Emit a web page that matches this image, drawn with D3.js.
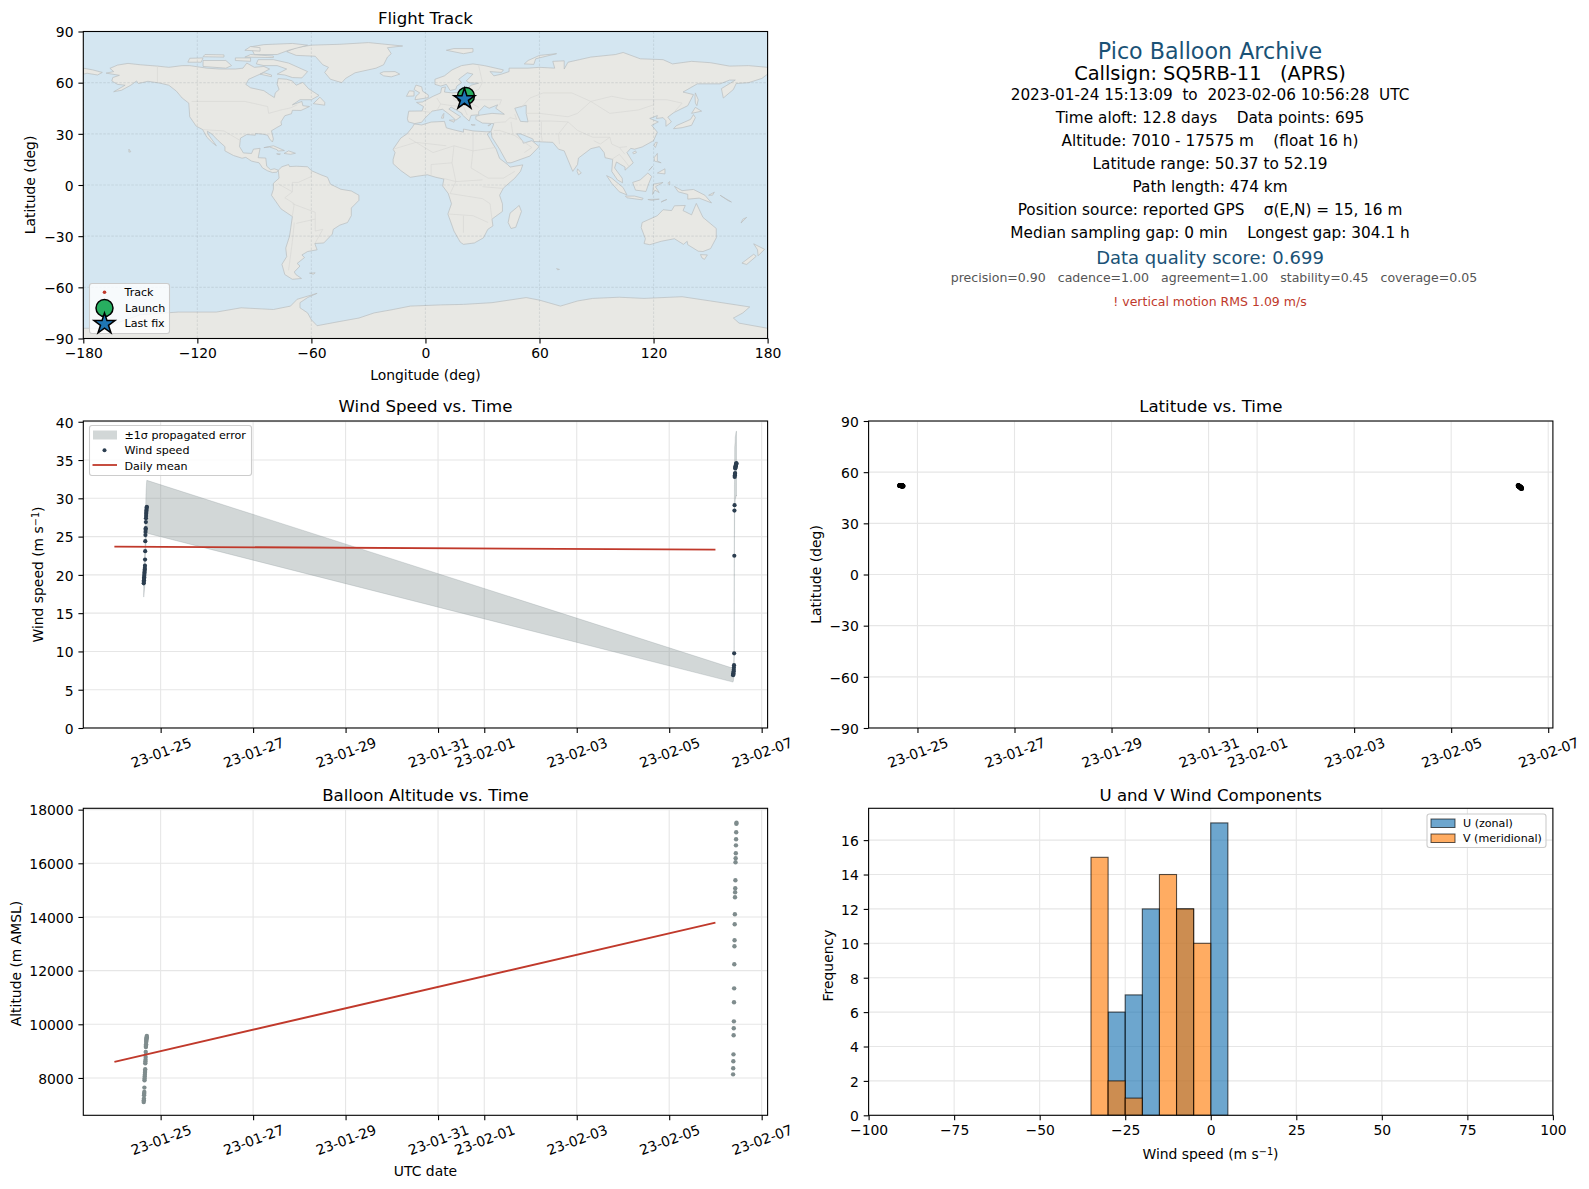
<!DOCTYPE html>
<html>
<head>
<meta charset="utf-8">
<title>Pico Balloon Archive</title>
<script src="https://cdnjs.cloudflare.com/ajax/libs/d3/7.8.5/d3.min.js"></script>
<style>
  html, body { margin: 0; padding: 0; background: #fff; }
  svg text { font-family: "DejaVu Sans", sans-serif; fill: #000; }
</style>
</head>
<body>
<svg id="chart" width="1589" height="1189"></svg>
<script>
// flight samples
const flightTimes = [
  "2023-01-24 15:13","2023-01-24 15:17","2023-01-24 15:20","2023-01-24 15:24","2023-01-24 15:27","2023-01-24 15:31","2023-01-24 15:34",
  "2023-01-24 15:38","2023-01-24 15:41","2023-01-24 15:45","2023-01-24 15:48","2023-01-24 15:52","2023-01-24 15:55","2023-01-24 15:59",
  "2023-01-24 16:02","2023-01-24 16:06","2023-01-24 16:09","2023-01-24 16:13","2023-01-24 16:16","2023-01-24 16:20","2023-01-24 16:23",
  "2023-01-24 16:27","2023-01-24 16:30","2023-01-24 16:34","2023-01-24 16:37","2023-01-24 16:41","2023-01-24 16:45","2023-01-24 16:50",
  "2023-02-06 09:10","2023-02-06 09:14","2023-02-06 09:18","2023-02-06 09:22","2023-02-06 09:27","2023-02-06 09:31","2023-02-06 09:35",
  "2023-02-06 09:39","2023-02-06 09:43","2023-02-06 09:48","2023-02-06 09:52","2023-02-06 09:56","2023-02-06 10:00","2023-02-06 10:05",
  "2023-02-06 10:09","2023-02-06 10:13","2023-02-06 10:17","2023-02-06 10:22","2023-02-06 10:26","2023-02-06 10:30","2023-02-06 10:35",
  "2023-02-06 10:39","2023-02-06 10:43","2023-02-06 10:47","2023-02-06 10:52","2023-02-06 10:56"
];
const windSpeed = [
  18.9,19.1,19.3,19.5,19.7,19.9,20.1,20.3,20.5,20.7,20.9,21.2,22.0,23.1,24.4,25.2,25.6,25.9,26.1,26.9,27.4,27.7,28.0,28.2,28.4,28.6,28.8,28.9,
  6.9,7.0,7.1,7.2,7.4,7.6,7.9,8.2,9.75,22.5,28.4,29.1,32.8,33.0,33.2,33.3,33.9,34.0,34.1,34.2,34.3,34.4,34.4,34.5,34.6,34.5
];
const windSigma = [
  1.8,1.8,1.9,1.9,2.0,2.0,2.1,2.1,2.2,2.2,2.3,2.3,2.4,2.5,2.6,2.7,2.8,2.8,2.9,3.0,3.1,3.2,3.2,3.3,3.3,3.4,3.4,3.45,
  0.9,0.9,0.9,1.0,1.0,1.0,1.1,1.1,1.2,2.8,3.4,3.5,3.9,3.9,4.0,4.0,4.1,4.1,4.1,4.1,4.2,4.2,4.2,4.2,4.2,4.2
];
const altitude = [
  7105,7170,7230,7354,7410,7477,7640,7913,7980,8050,8120,8190,8260,8322,8546,8610,8680,8780,8968,9154,9200,9255,9340,9390,9430,9480,9520,9564,
  8135,8360,8620,8880,9590,9850,10110,10820,11340,12235,12906,13130,13726,14100,14733,14919,15068,15366,16037,16186,16373,16670,16894,17155,17470,17510
];
const latitude = [
  52.19,52.18,52.17,52.16,52.15,52.14,52.13,52.12,52.11,52.10,52.10,52.09,52.08,52.07,52.06,52.05,52.04,52.03,52.02,52.01,52.00,51.99,51.98,51.97,51.96,51.95,51.94,51.93,
  52.15,52.10,52.03,51.96,51.90,51.83,51.76,51.70,51.63,51.56,51.50,51.43,51.36,51.30,51.23,51.16,51.10,51.03,50.96,50.90,50.80,50.66,50.50,50.37
];
const longitude = [
  21.3,21.3,21.3,21.3,21.2,21.2,21.2,21.2,21.2,21.1,21.1,21.1,21.1,21.1,21.0,21.0,21.0,21.0,21.0,21.0,20.9,20.9,20.9,20.9,20.9,20.9,20.8,20.8,
  20.8,20.8,20.8,20.8,20.8,20.8,20.7,20.7,20.7,20.7,20.7,20.7,20.7,20.7,20.6,20.6,20.6,20.6,20.6,20.6,20.6,20.5,20.5,20.5
];
const meanTimes = ["2023-01-24 00:00", "2023-02-06 00:00"];
const meanWind = [23.7, 23.3];
const meanAltitude = [8600, 13790];

// histogram bins
const binEdges = [-35, -30, -25, -20, -15, -10, -5, 0, 5];
const uCounts = [0, 6, 7, 12, 0, 12, 0, 17];
const vCounts = [15, 2, 1, 0, 14, 12, 10, 0];

const dateTicks = ["2023-01-25","2023-01-27","2023-01-29","2023-01-31","2023-02-01","2023-02-03","2023-02-05","2023-02-07"];
const lonTicks = [-180, -120, -60, 0, 60, 120, 180];
const latTicks = [-90, -60, -30, 0, 30, 60, 90];
const speedTicks = [0, 5, 10, 15, 20, 25, 30, 35, 40];
const altTicks = [8000, 10000, 12000, 14000, 16000, 18000];
const histXTicks = [-100, -75, -50, -25, 0, 25, 50, 75, 100];
const histYTicks = [0, 2, 4, 6, 8, 10, 12, 14, 16];

const summaryLines = [
  ["Pico Balloon Archive", 22.2, "#1a5276", 50.5, 1210],
  ["Callsign: SQ5RB-11   (APRS)", 19.4, "#000", 73.3, 1210],
  ["2023-01-24 15:13:09  to  2023-02-06 10:56:28  UTC", 15.25, "#000", 94.5, 1210],
  ["Time aloft: 12.8 days    Data points: 695", 15.3, "#000", 117.6, 1210],
  ["Altitude: 7010 - 17575 m    (float 16 h)", 15.3, "#000", 140.7, 1210],
  ["Latitude range: 50.37 to 52.19", 15.3, "#000", 163.5, 1210],
  ["Path length: 474 km", 15.3, "#000", 186.5, 1210],
  ["Position source: reported GPS    σ(E,N) = 15, 16 m", 15.3, "#000", 209.5, 1210],
  ["Median sampling gap: 0 min    Longest gap: 304.1 h", 15.3, "#000", 232.5, 1210],
  ["Data quality score: 0.699", 18, "#1a5276", 257, 1210],
  ["precision=0.90   cadence=1.00   agreement=1.00   stability=0.45   coverage=0.05", 12.55, "#555", 277.8, 1214],
  ["! vertical motion RMS 1.09 m/s", 12.5, "#c0392b", 301, 1210]
];

// land outlines, [lon, lat]
const northAmerica = [[-168,65.6],[-164,66.5],[-166,68.4],[-162,70.3],[-156.5,71.3],[-150,70.5],[-141,69.7],[-135,69],[-128,70],[-124,70],[-115,68.5],[-108,68],[-100,68],[-96,68.5],[-94,71.5],[-90,69],[-85,69.5],[-82,68],[-87,65],[-93,62],[-94.5,59],[-92,57],[-85,55.3],[-82,53],[-79.5,51.3],[-79,54],[-77,56],[-78,59],[-77.5,62.4],[-73,62],[-70,61],[-68,58.5],[-64.5,60.2],[-61.5,56.5],[-56,52.5],[-60,50],[-66,50],[-70,47],[-65,49],[-64.5,46.5],[-61,46],[-65.5,43.7],[-70,43.8],[-70.5,41.8],[-74,40.6],[-76,37],[-75.7,35.2],[-78,33.8],[-81,31.8],[-80,27],[-80.5,25.2],[-82,27],[-83,29.2],[-85.5,29.8],[-89.5,30.2],[-89.5,29.2],[-94,29.6],[-97.3,27.5],[-97.8,22.5],[-95.8,18.8],[-91.5,18.5],[-90.5,21],[-87,21.5],[-88,16],[-84,15.8],[-83.5,11],[-81.5,9],[-79.5,9.5],[-77.4,8.7],[-78.2,7.5],[-80.5,7.3],[-83,8.3],[-85.7,10],[-87.5,13],[-91.5,14],[-94.5,16.2],[-96.5,15.7],[-101,17.3],[-105.5,20],[-105.5,22.5],[-109,26],[-112.5,30],[-114.7,31.5],[-114.5,30],[-110,23],[-112,24.7],[-115,28],[-117.2,32.5],[-120.6,34.5],[-124,40],[-124.5,48],[-128,51],[-131,55],[-135,58.5],[-140,59.8],[-146,60.8],[-151,59.5],[-152,61],[-155,58.5],[-160,55.5],[-164,54.7],[-158,58.5],[-162,59],[-165,61],[-164.5,63],[-161,64.3]];
const southAmerica = [[-77.4,8.7],[-75.5,10.7],[-72,12],[-71.5,10.8],[-68,11],[-62,10.7],[-60,8.4],[-55,6],[-51.5,4.5],[-50,0.5],[-44.5,-2.5],[-39,-3.5],[-35,-6],[-35,-9],[-39,-13.5],[-39,-18],[-41,-22],[-45,-23.5],[-48.5,-26],[-49,-28.8],[-53.5,-34],[-58.2,-34.3],[-57,-38],[-62,-39],[-65,-41],[-63.6,-42.5],[-67.5,-46],[-66,-47.5],[-69,-51],[-68.2,-52.5],[-65.2,-54.8],[-70,-55.3],[-74,-52.5],[-75.5,-46.5],[-73,-42],[-73.5,-37],[-71.5,-30],[-70,-18.5],[-76,-14],[-81,-6],[-80,-2.5],[-80,1],[-77,4]];
const greenland = [[-73,78.2],[-68,76],[-58,75.5],[-54,70.5],[-51,69],[-53,66],[-50,62],[-44,60],[-42,62.5],[-37,65.8],[-26,68.5],[-22,70.5],[-20,75],[-18,77],[-20,80.5],[-12,81.5],[-30,83.5],[-45,82.5],[-60,82],[-68,80.5]];
const africa = [[-5.9,35.8],[-2,35.2],[3,36.9],[10,37.3],[11,33.5],[15,32.3],[20,31],[20,32.8],[25,31.7],[32,31.2],[34.2,31.3],[32.5,29.9],[35.5,24],[37.2,21],[39,15.6],[43.2,12],[44.5,10.5],[51.2,11.8],[50,8],[47,4],[41,-1.8],[39,-6],[40.5,-11],[40.5,-15.5],[35,-20],[35.5,-24],[32.8,-26],[30.5,-31],[25.7,-34],[20,-34.8],[18.3,-33.5],[15,-27],[11.8,-17],[13.7,-11],[12,-5],[9,-0.5],[9.7,3.5],[5.5,4.5],[1,6],[-4,5.2],[-8,4.5],[-13,8.5],[-17,12.5],[-17,15],[-16,19],[-17,21],[-13,27.5],[-9.7,30],[-6.8,34]];
const eurasia = [[-5.6,36],[-9,37],[-9.5,38.8],[-8.8,43.3],[-1.8,43.4],[-1,46],[-4.7,48.4],[-1.6,48.7],[1.5,50.5],[4,52],[8,54],[8.5,57],[10.5,57.5],[10,54.5],[14,54],[19,54.5],[21,55.5],[24,58.5],[28,59.7],[23,59.9],[21.5,61],[25,65],[22,65.8],[17.5,62],[19,60],[16.5,58],[16,56.2],[13,55.4],[11,59],[8,58],[5,59],[5,62],[10,64],[14,67.5],[19,70],[25,71],[31,70],[41,67.5],[40,66],[34,66.5],[36,64],[40,65],[44,66.5],[44,68.5],[54,68.5],[60,69],[68,68.5],[67,72.5],[73,72.8],[73,68],[75,72],[81,73.5],[87,75],[100,76.5],[104,77.7],[113,74],[125,73.5],[130,71],[140,72.5],[150,71.7],[160,69.7],[170,70],[180,69],[180,65],[177,62.5],[170,60],[163.5,59.5],[162,56],[156.7,51],[155.7,56.5],[163,61.5],[160,61.5],[155,59.3],[143,59.3],[135.5,54.5],[141,53],[138,46.5],[130.7,42.5],[127.5,39.8],[129.4,37],[126.5,34.4],[126.5,37.7],[125,39.5],[121.5,39],[122,40.7],[118,39],[122.5,37],[119,35],[122,31],[120,26],[114,22.3],[110,21],[108,21.5],[106,19],[109.3,13],[105,8.7],[105,10.5],[100.5,13.5],[99.5,10],[103.5,4],[103.7,1.3],[101,3],[98,8],[98.5,15],[94.5,16],[94,19],[91.5,22.5],[87,21.3],[80.5,15.8],[80,12],[77.5,8],[73,20],[70,21],[67,25],[57,25.5],[56.5,27],[50,30],[48,30],[51,26],[51.5,24.5],[56,26],[59.8,22.5],[55,17],[45,13],[43,13],[39,21],[35,28],[34.5,31.5],[36,36],[30,36.3],[26.5,38.5],[26.5,40.3],[29,41],[35,42],[41.5,41.5],[37,45],[38,47],[33.5,45],[31,46.5],[28,43],[28,41.2],[24,40.8],[23,37.5],[19.5,41],[19,42.2],[13.5,45.7],[12.3,44.5],[18.5,40],[16,38],[13,41],[9,44.4],[3.5,43.3],[0,39.5],[-2,36.8]];
const australia = [[114,-22],[122,-18],[125,-14.5],[129.5,-15],[131,-12.2],[136.7,-12],[135.5,-15],[140,-17.5],[142.5,-10.8],[146,-19],[153,-25.5],[153,-31],[150,-37.3],[146,-39],[143.5,-38.8],[138,-35],[137.7,-33],[135.7,-34.8],[131,-31.5],[124,-33],[118,-35],[115,-34.3],[115.7,-31.5],[113.5,-25]];
const antarctica = [[-180,-84],[-172,-84],[-160,-80],[-150,-76],[-130,-74.5],[-110,-74.5],[-97,-72],[-80,-73],[-71,-71],[-67.5,-67],[-57,-63.5],[-62,-66],[-66,-69],[-66,-72],[-62,-75],[-60,-79],[-57,-82.5],[-45,-80],[-35,-78],[-27,-75],[-17,-73],[-8,-71],[8,-70.3],[20,-70],[35,-69],[53,-66],[60,-67.5],[71,-71],[80,-68],[88,-66.5],[102,-65.8],[115,-66.5],[135,-65.5],[150,-68],[170.6,-71.5],[167,-75],[162,-78],[165,-81],[180,-84],[180,-90],[-180,-90]];
const islands = [
  [[-180,68.5],[-175,67.5],[-170,66],[-172.5,64.5],[-178,65.5],[-180,65]],
  [[-80,73.5],[-72,71.5],[-67,69],[-62,66.5],[-65,62.8],[-70,63],[-74,64.5],[-78,65],[-73,68],[-78,70],[-85,70],[-89,71],[-88,73.5]],
  [[-117,69.5],[-105,68.5],[-102,70],[-105,73],[-117,73]],
  [[-125,72],[-118,72],[-117,74.5],[-124,74.3]],
  [[-90,76.5],[-78,76.5],[-72,79],[-62,82],[-70,83],[-85,82.3],[-92,81]],
  [[-95,75],[-80,74.7],[-80,75.6],[-92,76.5]],
  [[-117,75.2],[-106,75],[-106,76.3],[-116,76.5]],
  [[-100,73],[-92,72.5],[-92,74.5],[-100,74.5]],
  [[-95,79],[-87,78.5],[-87,80.5],[-92,81.2]],
  [[-87,65],[-81,63.5],[-81,64.5],[-85,65.8]],
  [[-59,47.7],[-53,46.8],[-53,48.5],[-55.5,51.5]],
  [[-85,21.9],[-80,23],[-74.2,20.2],[-77.7,19.9],[-78,20.7],[-82,22.3]],
  [[-74.4,18.5],[-72,20],[-68.4,18.6],[-71,18]],
  [[-78.3,18.3],[-76.3,18.2],[-77,17.8]],
  [[-156,21],[-155,19.5],[-156,19.3]],
  [[-61,-51.7],[-58,-51.5],[-59,-52.3]],
  [[-5.5,50],[1.5,51.2],[1.5,52.8],[-1.5,55],[-2,57.6],[-5,58.6],[-6,56],[-3,54],[-5,52]],
  [[-10,52],[-6,52.2],[-6,55],[-8.5,55.2]],
  [[-24,65.5],[-22,64],[-18,63.4],[-13.5,65],[-16,66.5],[-22,66.4]],
  [[11,79],[20,77],[25,78],[25,80],[15,80]],
  [[52,71],[57,70.7],[58,74],[69,77],[60,76],[54,73]],
  [[142,54],[143.5,50],[142.8,46.5],[142,48],[141.8,52]],
  [[130.5,33],[135,33.6],[140,35],[142,39.5],[141,41.3],[139.5,38.5],[136.5,37],[132,34.8]],
  [[140,42],[145.3,43.3],[142,45.5]],
  [[120.2,23],[121,25],[122,25],[121,22]],
  [[109,19],[110.5,20],[111,19],[109.5,18.2]],
  [[80,9.5],[82,7],[80.5,6],[79.8,8]],
  [[120.3,16],[122,18.5],[122,14],[124,13],[120.5,14]],
  [[122,7],[126,9.5],[126,6.5]],
  [[118,9],[119.5,11],[117.5,8.5]],
  [[109,1.5],[113,3],[117,7],[119,5],[117.5,1],[116,-3.8],[110.5,-3]],
  [[95.3,5.5],[98,4],[104,-1.5],[106,-5.8],[102,-4],[98,1]],
  [[105.2,-6.5],[110,-6.5],[114.5,-7.8],[114,-8.7],[106,-7.5]],
  [[119.5,-5.5],[120,0.5],[125,1.5],[121,-1],[123,-4.5],[120.7,-3]],
  [[127.5,1],[128.5,2],[128.5,0]],
  [[117,-8.5],[123,-8.3],[119,-9]],
  [[131,-0.8],[135,-3.3],[141,-2.6],[147,-6],[150.5,-10.5],[144,-7.7],[138,-8.3],[138,-5.5],[133,-4]],
  [[124,-10],[127,-8.5],[125,-9.3]],
  [[149,-6],[152,-4.2],[151,-6]],
  [[155,-6],[158,-8],[161,-10],[159,-9]],
  [[49.3,-12],[50.5,-15.5],[47.5,-24.8],[45,-25.5],[43.5,-22],[44.5,-16.5]],
  [[144.7,-40.8],[148.3,-41],[146.8,-43.6],[145.5,-42.8]],
  [[172.7,-34.5],[178.4,-37.7],[175,-41.5],[174.7,-38]],
  [[172.7,-40.6],[174,-41.8],[169,-46.6],[166.5,-45.8]],
  [[167,-20],[169,-19],[166,-22.3]],
  [[69,-49],[70.5,-49.5],[69.5,-49.7]],
  [[9,41],[9.7,42],[9.5,39.2],[8.4,39.2]],
  [[12.5,38],[15.5,38.2],[15,36.8]],
  [[24,35.5],[26.2,35.2],[24.5,35]],
  [[33,35],[34.5,35.6],[33,34.6]]
];
const caspian = [[47,45],[53,46.8],[53,42],[54,37],[50,37.3],[48.5,41]];
const borders = [
  [[-123,49],[-95,49],[-83,46],[-82.5,42],[-76,44],[-71,45.2],[-67.5,47]],
  [[-141,69.7],[-141,60.3]],
  [[-117,32.5],[-106,31.7],[-97.3,26]],
  [[-70,-18],[-69,-11],[-74,-7.5],[-70,-4],[-70,1.5],[-67,1.5],[-60,5],[-60,8]],
  [[-69,-22],[-70,-33],[-72,-50]],
  [[-58,-20],[-58,-27],[-54,-26],[-58,-34]],
  [[-70,-11],[-58,-16],[-58,-20],[-68,-22.5]],
  [[-77.5,0.7],[-70,-4]],
  [[-8.7,27.5],[4,19],[15,23],[25,20],[36.8,22]],
  [[25,31.7],[25,20],[24,10],[33,4],[41,4],[47,8]],
  [[-17,21],[-5,25],[11,23]],
  [[3,6],[3,12],[14,13],[15,23]],
  [[14,13],[16,2],[13,-5],[30,-8],[34,-11],[35,-20]],
  [[12,-17],[25,-18],[33,-22]],
  [[20,-28],[20,-18]],
  [[9,4],[16,2],[30,3]],
  [[30,-1],[41,-2]],
  [[28,70],[30,60],[28,56],[23.5,54],[24,50],[40,50],[39,47]],
  [[14,54],[15,50],[24,48],[28,45.5]],
  [[6,51],[8,47.5],[14,46.5],[20,46],[22,41]],
  [[-1.8,43.3],[3,42.5]],
  [[6,43.7],[8,47.5]],
  [[47,41.5],[48,38.5],[44.5,39.5],[42,37],[36,36.5]],
  [[45,37],[46,30]],
  [[36,32],[39,32],[47,29],[56,22],[52,19]],
  [[61,37],[61,29],[61.5,25.3]],
  [[54,37.5],[66,37.5],[75,37],[70,30],[70.5,24]],
  [[75,37],[80,32],[88,28],[97,28],[98,24],[102,22],[106,22.5]],
  [[50,45],[55,51],[62,54],[77,54],[87,49],[80,42],[75,40],[60,42],[53,42]],
  [[87,49],[98,52],[107,50],[120,50],[127,50],[135,48],[131,43]],
  [[87,49],[97,42],[112,44],[120,47],[120,50]],
  [[97,28],[92,24],[88.5,26]],
  [[98,15],[102,18],[105,14],[107,11]],
  [[102,22],[105,18]]
];

const red = "#c0392b";
const parseTime = d3.utcParse("%Y-%m-%d %H:%M");
const parseDay = d3.utcParse("%Y-%m-%d");
const flightDates = flightTimes.map(parseTime);
const meanDates = meanTimes.map(parseTime);

const svg = d3.select("#chart");

// axes boxes in page pixels
const leftCol = [83.3, 767.6];
const rightCol = [868.6, 1552.9];
const rowMap = [31.5, 338.5];
const rowMid = [421, 728];
const rowLow = [808.3, 1115.3];

// 5% margin on the time axis like the original
function paddedTime(first, last) {
  const pad = (last - first) * 0.05;
  return [new Date(first - pad), new Date(+last + pad)];
}
const lastFix = flightDates[flightDates.length - 1];
const timeDomain = paddedTime(meanDates[0], lastFix);   // panels with a daily mean start earlier
const latTimeDomain = paddedTime(flightDates[0], lastFix);

let clipCount = 0;

function panel(xRange, yRange, title, titleGap) {
  const g = svg.append("g");
  clipCount += 1;
  const clipId = "clip" + clipCount;
  g.append("clipPath").attr("id", clipId).append("rect")
    .attr("x", xRange[0]).attr("y", yRange[0])
    .attr("width", xRange[1] - xRange[0]).attr("height", yRange[1] - yRange[0]);
  const body = g.append("g").attr("clip-path", `url(#${clipId})`);
  g.append("text").attr("x", (xRange[0] + xRange[1]) / 2).attr("y", yRange[0] - (titleGap || 7.5))
    .attr("text-anchor", "middle").style("font-size", "16.6px").text(title);
  return { g, body, xRange, yRange, clipId };
}

function frame(p) {
  p.g.append("rect")
    .attr("x", p.xRange[0]).attr("y", p.yRange[0])
    .attr("width", p.xRange[1] - p.xRange[0]).attr("height", p.yRange[1] - p.yRange[0])
    .attr("fill", "none").attr("stroke", "#000").attr("stroke-width", 1.1);
}

function styleAxis(sel) {
  sel.selectAll(".domain").remove();
  sel.selectAll(".tick line").attr("stroke", "#000").attr("stroke-width", 1.1);
  sel.selectAll(".tick text").style("font-size", "13.9px").style("font-family", '"DejaVu Sans", sans-serif');
}

function xAxisBottom(p, scale, ticks, fmt) {
  const axis = d3.axisBottom(scale).tickValues(ticks).tickSize(4.9).tickPadding(4.9);
  if (fmt) axis.tickFormat(fmt);
  return p.g.append("g").attr("transform", `translate(0,${p.yRange[1]})`).call(axis).call(styleAxis);
}

function yAxisLeft(p, scale, ticks) {
  const axis = d3.axisLeft(scale).tickValues(ticks).tickSize(4.9).tickPadding(4.9).tickFormat(d3.format("d"));
  const ax = p.g.append("g").attr("transform", `translate(${p.xRange[0]},0)`).call(axis).call(styleAxis);
  ax.selectAll(".tick text").attr("dy", "0.38em");
  return ax;
}

function grid(p, xScale, xTicks, yScale, yTicks, color, dash) {
  const lines = p.body.append("g").attr("stroke", color).attr("stroke-width", 1.1);
  if (dash) lines.attr("stroke-dasharray", dash);
  lines.selectAll(".gx").data(xTicks).join("line").attr("class", "gx")
    .attr("x1", d => xScale(d)).attr("x2", d => xScale(d))
    .attr("y1", p.yRange[0]).attr("y2", p.yRange[1]);
  lines.selectAll(".gy").data(yTicks).join("line").attr("class", "gy")
    .attr("y1", d => yScale(d)).attr("y2", d => yScale(d))
    .attr("x1", p.xRange[0]).attr("x2", p.xRange[1]);
}

function timeAxis(p, scale) {
  const fmt = d3.utcFormat("%y-%m-%d");
  const ax = xAxisBottom(p, scale, dateTicks.map(parseDay), fmt);
  ax.selectAll(".tick text")
    .attr("text-anchor", "middle").attr("dy", null).attr("y", 0)
    .attr("dominant-baseline", "central")
    .attr("transform", "translate(0,24.5) rotate(-20)");
  return ax;
}

function label(x, y, txt, size, rotate, sup) {
  const t = svg.append("text").attr("text-anchor", "middle").style("font-size", (size || 13.9) + "px")
    .attr("transform", `translate(${x},${y})` + (rotate ? " rotate(-90)" : ""));
  t.append("tspan").text(txt);
  if (sup) {
    t.append("tspan").attr("dy", "-0.4em").style("font-size", "0.7em").text(sup);
    t.append("tspan").attr("dy", "0.28em").text(")");
  }
  return t;
}

function legendBox(x, y, w, h) {
  svg.append("rect").attr("x", x).attr("y", y).attr("width", w).attr("height", h).attr("rx", 2.5)
    .attr("fill", "#fff").attr("fill-opacity", 0.8).attr("stroke", "#ccc").attr("stroke-width", 1.1);
}

function legendText(x, y, txt) {
  svg.append("text").attr("x", x).attr("y", y).attr("dominant-baseline", "central")
    .style("font-size", "11.1px").text(txt);
}

// ---- flight track map
const mapPanel = panel(leftCol, rowMap, "Flight Track");
const mapX = d3.scaleLinear().domain([-180, 180]).range(leftCol);
const mapY = d3.scaleLinear().domain([-90, 90]).range([rowMap[1], rowMap[0]]);
const geoLine = d3.line().x(d => mapX(d[0])).y(d => mapY(d[1]));

mapPanel.body.append("rect")
  .attr("x", leftCol[0]).attr("y", rowMap[0])
  .attr("width", leftCol[1] - leftCol[0]).attr("height", rowMap[1] - rowMap[0])
  .attr("fill", "#d4e6f1");

const landShapes = [northAmerica, southAmerica, greenland, africa, eurasia, australia, antarctica].concat(islands);
mapPanel.body.append("g").selectAll("path").data(landShapes).join("path")
  .attr("d", d => geoLine(d) + "Z")
  .attr("fill", "#e8e8e4").attr("stroke", "#b9bdbf").attr("stroke-width", 0.7).attr("stroke-linejoin", "round");
mapPanel.body.append("path").attr("d", geoLine(caspian) + "Z")
  .attr("fill", "#d4e6f1").attr("stroke", "#b9bdbf").attr("stroke-width", 0.7);
mapPanel.body.append("g").selectAll("path").data(borders).join("path")
  .attr("d", geoLine).attr("fill", "none").attr("stroke", "#d8d8d5").attr("stroke-width", 0.7);

grid(mapPanel, mapX, lonTicks, mapY, latTicks, "rgba(120,130,135,0.16)", "2.5,1.5");

mapPanel.body.append("g").attr("fill", red).selectAll("circle").data(latitude).join("circle")
  .attr("cx", (d, i) => mapX(longitude[i])).attr("cy", d => mapY(d)).attr("r", 1.5);
mapPanel.g.append("circle")
  .attr("cx", mapX(longitude[0])).attr("cy", mapY(latitude[0])).attr("r", 8.5)
  .attr("fill", "#27ae60").attr("stroke", "#000").attr("stroke-width", 1.5);
const starPath = d3.symbol(d3.symbolStar, 136)();
mapPanel.g.append("path").attr("d", starPath)
  .attr("transform", `translate(${mapX(longitude[longitude.length - 1])},${mapY(latitude[latitude.length - 1])})`)
  .attr("fill", "#1f77b4").attr("stroke", "#000").attr("stroke-width", 1.5).attr("stroke-linejoin", "miter");

frame(mapPanel);
xAxisBottom(mapPanel, mapX, lonTicks);
yAxisLeft(mapPanel, mapY, latTicks);
label(425.5, 379.5, "Longitude (deg)");
label(35, 185, "Latitude (deg)", 13.9, true);

legendBox(89.5, 283.5, 80, 50);
svg.append("circle").attr("cx", 104.5).attr("cy", 292.3).attr("r", 1.8).attr("fill", red);
svg.append("circle").attr("cx", 104.5).attr("cy", 308).attr("r", 8.5)
  .attr("fill", "#27ae60").attr("stroke", "#000").attr("stroke-width", 1.5);
svg.append("path").attr("d", starPath).attr("transform", "translate(104.5,324)")
  .attr("fill", "#1f77b4").attr("stroke", "#000").attr("stroke-width", 1.5);
legendText(124.5, 292.3, "Track");
legendText(125, 308, "Launch");
legendText(124.5, 323, "Last fix");

// ---- wind speed
const windPanel = panel(leftCol, rowMid, "Wind Speed vs. Time", 9);
const windT = d3.scaleUtc().domain(timeDomain).range(leftCol);
const windY = d3.scaleLinear().domain([0, 40.1]).range([rowMid[1], rowMid[0]]);
grid(windPanel, windT, dateTicks.map(parseDay), windY, speedTicks, "#e6e6e6");

const windBand = d3.area()
  .x((d, i) => windT(flightDates[i]))
  .y0((d, i) => windY(d - windSigma[i]))
  .y1((d, i) => windY(d + windSigma[i]));
windPanel.body.append("path").attr("d", windBand(windSpeed))
  .attr("fill", "#7f8c8d").attr("fill-opacity", 0.35).attr("stroke", "#7f8c8d").attr("stroke-opacity", 0.3).attr("stroke-width", 0.8);
windPanel.body.append("g").attr("fill", "#2c3e50").selectAll("circle").data(windSpeed).join("circle")
  .attr("cx", (d, i) => windT(flightDates[i])).attr("cy", d => windY(d)).attr("r", 2.1);
const windMean = d3.line().x((d, i) => windT(meanDates[i])).y(d => windY(d));
windPanel.body.append("path").attr("d", windMean(meanWind)).attr("fill", "none").attr("stroke", red).attr("stroke-width", 1.8);

frame(windPanel);
timeAxis(windPanel, windT);
yAxisLeft(windPanel, windY, speedTicks);
label(42.5, 574.5, "Wind speed (m s", 13.9, true, "−1");

legendBox(89.5, 425.5, 162, 50);
svg.append("rect").attr("x", 93).attr("y", 430.5).attr("width", 24).attr("height", 9)
  .attr("fill", "#7f8c8d").attr("fill-opacity", 0.35);
svg.append("circle").attr("cx", 104.5).attr("cy", 450.3).attr("r", 2).attr("fill", "#2c3e50");
svg.append("line").attr("x1", 92.5).attr("x2", 117).attr("y1", 465).attr("y2", 465).attr("stroke", red).attr("stroke-width", 1.8);
legendText(124.5, 435.5, "±1σ propagated error");
legendText(124.5, 450.3, "Wind speed");
legendText(124.5, 466, "Daily mean");

// ---- latitude
const latPanel = panel(rightCol, rowMid, "Latitude vs. Time", 9);
const latT = d3.scaleUtc().domain(latTimeDomain).range(rightCol);
const latY = d3.scaleLinear().domain([-90, 90]).range([rowMid[1], rowMid[0]]);
grid(latPanel, latT, dateTicks.map(parseDay), latY, latTicks, "#e6e6e6");
latPanel.body.append("g").attr("fill", "#000").selectAll("circle").data(latitude).join("circle")
  .attr("cx", (d, i) => latT(flightDates[i])).attr("cy", d => latY(d)).attr("r", 2.5);
frame(latPanel);
timeAxis(latPanel, latT);
yAxisLeft(latPanel, latY, latTicks);
label(820.5, 574.5, "Latitude (deg)", 13.9, true);

// ---- altitude
const altPanel = panel(leftCol, rowLow, "Balloon Altitude vs. Time");
const altT = d3.scaleUtc().domain(timeDomain).range(leftCol);
const altY = d3.scaleLinear().domain([6608, 18050]).range([rowLow[1], rowLow[0]]);
grid(altPanel, altT, dateTicks.map(parseDay), altY, altTicks, "#e6e6e6");
altPanel.body.append("g").attr("fill", "#7f8c8d").selectAll("circle").data(altitude).join("circle")
  .attr("cx", (d, i) => altT(flightDates[i])).attr("cy", d => altY(d)).attr("r", 2.2);
const altMean = d3.line().x((d, i) => altT(meanDates[i])).y(d => altY(d));
altPanel.body.append("path").attr("d", altMean(meanAltitude)).attr("fill", "none").attr("stroke", red).attr("stroke-width", 2);
frame(altPanel);
timeAxis(altPanel, altT);
yAxisLeft(altPanel, altY, altTicks);
label(425.5, 1176, "UTC date");
label(21, 963.5, "Altitude (m AMSL)", 13.9, true);

// ---- histogram
const histPanel = panel(rightCol, rowLow, "U and V Wind Components");
const histX = d3.scaleLinear().domain([-100, 100]).range(rightCol);
const histY = d3.scaleLinear().domain([0, 17.85]).range([rowLow[1], rowLow[0]]);
grid(histPanel, histX, histXTicks, histY, histYTicks, "#e6e6e6");

function histBars(counts, color) {
  histPanel.body.append("g").selectAll("rect").data(counts).join("rect")
    .attr("x", (d, i) => histX(binEdges[i]))
    .attr("width", (d, i) => histX(binEdges[i + 1]) - histX(binEdges[i]))
    .attr("y", d => histY(d))
    .attr("height", d => histY(0) - histY(d))
    .attr("fill", color).attr("fill-opacity", 0.65)
    .attr("stroke", "#000").attr("stroke-opacity", 0.65).attr("stroke-width", 1.1);
}
histBars(uCounts, "#1f77b4");
histBars(vCounts, "#ff7f0e");

frame(histPanel);
xAxisBottom(histPanel, histX, histXTicks);
yAxisLeft(histPanel, histY, histYTicks);
label(1210.5, 1159, "Wind speed (m s", 13.9, false, "−1");
label(833, 965.5, "Frequency", 13.9, true);

legendBox(1427, 814, 119, 33.5);
svg.append("rect").attr("x", 1431).attr("y", 819).attr("width", 24).attr("height", 8.5)
  .attr("fill", "#1f77b4").attr("fill-opacity", 0.65).attr("stroke", "#000").attr("stroke-opacity", 0.65);
svg.append("rect").attr("x", 1431).attr("y", 834).attr("width", 24).attr("height", 8.5)
  .attr("fill", "#ff7f0e").attr("fill-opacity", 0.65).attr("stroke", "#000").attr("stroke-opacity", 0.65);
legendText(1463, 823.5, "U (zonal)");
legendText(1463, 838.5, "V (meridional)");

// ---- summary text
svg.append("g").selectAll("text").data(summaryLines).join("text")
  .attr("x", d => d[4])
  .attr("y", d => d[3])
  .attr("text-anchor", "middle")
  .attr("dominant-baseline", "central")
  .attr("xml:space", "preserve")
  .style("white-space", "pre")
  .style("font-size", d => d[1] + "px")
  .style("fill", d => d[2])
  .text(d => d[0]);
</script>
</body>
</html>
